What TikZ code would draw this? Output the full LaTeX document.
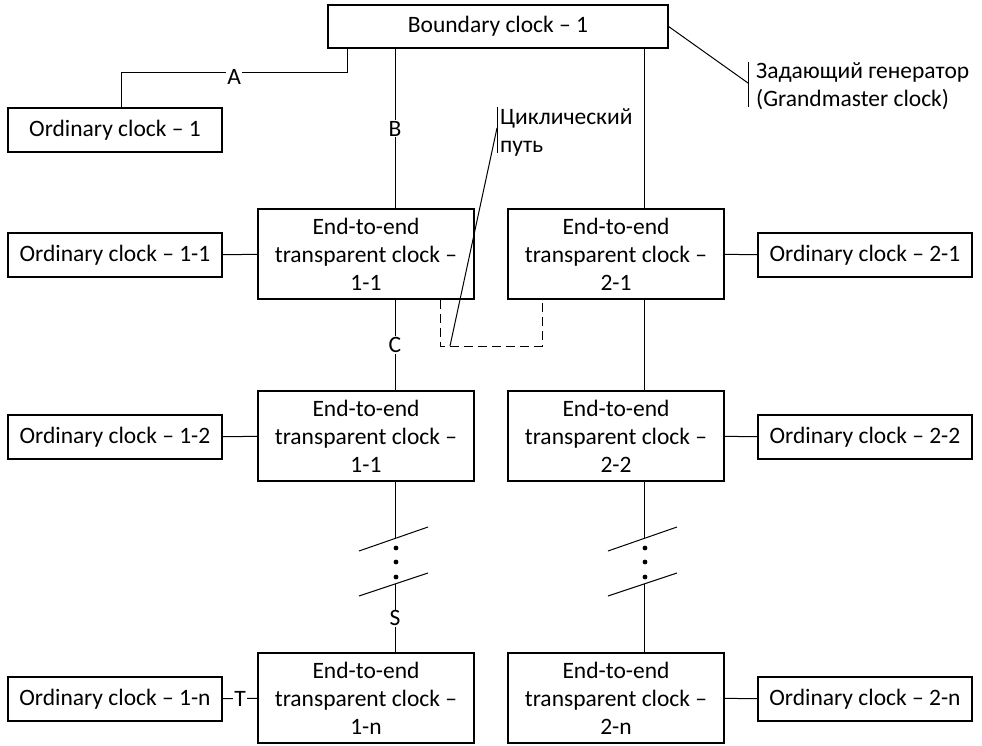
\documentclass[tikz,border=0pt]{standalone}
\usepackage{fontspec}
\setmainfont{Carlito}
\usetikzlibrary{calc}

\begin{document}
\begin{tikzpicture}[x=1pt, y=-1pt,
    font=\fontsize{23.5}{28}\selectfont,
    box/.style={draw, line width=1.2pt, inner sep=0pt, align=center},
    ordbox/.style={box, minimum width=214pt, minimum height=44pt},
    tcbox/.style={box, minimum width=216pt, minimum height=90pt},
    lbl/.style={fill=white, inner sep=1pt},
    link/.style={line width=1pt}]
    \useasboundingbox (0,0) rectangle (982,745);

    % Boundary clock and ordinary clock 1
    \node[box, minimum width=340pt, minimum height=43pt] (bc) at (498,26.5) {Boundary clock – 1};
    \node[ordbox] (oc1) at (115,130) {Ordinary clock – 1};

    % Rows of transparent clocks
    \foreach \k/\y/\a/\b/\c/\d in {1/254/1-1/2-1/1-1/2-1, 2/436/1-1/2-2/1-2/2-2, n/698/1-n/2-n/1-n/2-n} {
      \node[tcbox] (e1\k) at (366,\y) {End-to-end\\transparent clock –\\\a};
      \node[tcbox] (e2\k) at (616,\y) {End-to-end\\transparent clock –\\\b};
      \node[ordbox] (o1\k) at (115,\y+1) {Ordinary clock – \c};
      \node[ordbox] (o2\k) at (865,\y+1) {Ordinary clock – \d};
    }

    % Links
    \coordinate (colL) at (395,0);
    \coordinate (colR) at (644,0);
    \draw[link] ([xshift=20pt]bc.south west) |- node[lbl, pos=0.75, yshift=-5pt] {A} ([xshift=6pt, yshift=35pt]oc1.north) -- ([xshift=6pt]oc1.north);
    \draw[link] (bc.south -| colL) -- node[lbl] {B} (e11.north -| colL);
    \draw[link] (e11.south -| colL) -- node[lbl] {C} (e12.north -| colL);
    \draw[link] (bc.south -| colR) -- (e21.north -| colR);
    \draw[link] (e21.south -| colR) -- (e22.north -| colR);
    \draw[link] (o11) -- (e11);
    \draw[link] (o12) -- (e12);
    \draw[link] (e21) -- (o21);
    \draw[link] (e22) -- (o22);
    \draw[link] (o1n) -- node[lbl] {T} (e1n);
    \draw[link] (e2n) -- (o2n);

    % Breaks
    \foreach \c/\t in {colL/e1, colR/e2} {
      \draw[link] (\t2.south -| \c) -- ($(\c)+(0,538)$);
      \draw[link] ($(\c)+(-36,551)$) -- ($(\c)+(33,527)$);
      \draw[link] ($(\c)+(-36,596)$) -- ($(\c)+(33,573)$);
      \foreach \d in {548,562,577} \fill ($(\c)+(1,\d)$) circle (2.4pt);
    }
    \draw[link] ($(colL)+(0,584)$) -- node[lbl] {S} (e1n.north -| colL);
    \draw[link] ($(colR)+(0,584)$) -- (e2n.north -| colR);

    % Loop
    \coordinate (loopL) at (440,346);
    \coordinate (loopR) at (542,346);
    \coordinate (cycP) at (450,346);
    \draw[link, dash pattern=on 9pt off 5pt] (e11.south -| loopL) -- (loopL) -- (loopR) -- (e21.south -| loopR);

    % Callouts
    \node[anchor=west, align=left, inner sep=3pt] (cyc) at (497,132) {Циклический\\путь};
    \draw[link] ([yshift=25pt]cyc.west) -- ([yshift=-21pt]cyc.west);
    \draw[link] (cycP) -- ([yshift=4pt]cyc.west);
    \node[anchor=west, align=left, inner xsep=8pt, inner ysep=3pt] (gm) at (748,86) {Задающий генератор\\(Grandmaster clock)};
    \draw[link] ([yshift=24pt]gm.west) -- ([yshift=-21pt]gm.west);
    \draw[link] (bc.east) -- ([yshift=3pt]gm.west);
\end{tikzpicture}
\end{document}
